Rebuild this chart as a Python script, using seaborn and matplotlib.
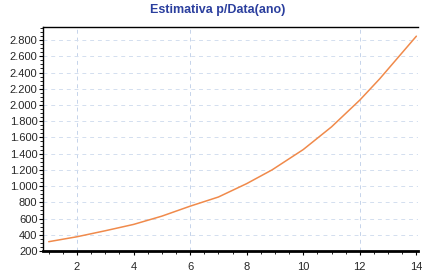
import pandas as pd
import seaborn as sns
import matplotlib.pyplot as plt
from matplotlib.ticker import FuncFormatter, MultipleLocator

# values
anos = [1, 2, 3, 4, 5, 6, 7, 8, 8.9, 10, 11, 12, 12.7, 14]
estimativa = [314, 375, 449, 527, 629, 752, 865, 1030, 1200, 1450, 1730, 2060, 2321, 2848]

df = pd.DataFrame({'ano': anos, 'estimativa': estimativa})

sns.set_style('white')
plt.rcParams['font.family'] = ['Liberation Sans', 'DejaVu Sans']

fig = plt.figure(figsize=(4.22, 2.71), dpi=100)
ax = fig.add_axes([0.102, 0.074, 0.888, 0.826])

sns.lineplot(data=df, x='ano', y='estimativa', color='#f08a4b', linewidth=1.1, ax=ax)

ax.set_xlim(0.8, 14.05)
ax.set_ylim(200, 2960)
ax.xaxis.set_major_locator(MultipleLocator(2))
ax.xaxis.set_minor_locator(MultipleLocator(0.5))
ax.yaxis.set_major_locator(MultipleLocator(200))
ax.yaxis.set_minor_locator(MultipleLocator(50))
ax.yaxis.set_major_formatter(FuncFormatter(lambda v, p: f'{int(v):,}'.replace(',', '.')))

# light dashed grid
ax.grid(axis='y', color='#d3deef', linestyle=(0, (4, 4)), linewidth=0.7)
for xv in [2, 6, 12]:
    ax.axvline(xv, color='#c5d3ea', linestyle=(0, (4, 4)), linewidth=0.7, zorder=0)

ax.set_xlabel('')
ax.set_ylabel('')
ax.tick_params(axis='both', which='major', labelsize=8, length=3, width=0.8,
               direction='out', color='black', pad=1)
ax.tick_params(axis='both', which='minor', length=2, width=0.6, direction='out', color='black')
ax.tick_params(axis='x', pad=5)
ax.tick_params(left=True, bottom=True, which='both')

for side in ['left', 'top']:
    ax.spines[side].set_color('black')
    ax.spines[side].set_linewidth(1.0)
ax.spines['bottom'].set_color('black')
ax.spines['bottom'].set_linewidth(2.0)
ax.spines['right'].set_visible(False)

fig.text(0.515, 0.962, 'Estimativa p/Data(ano)', ha='center', va='center',
         fontsize=9, fontweight='bold', color='#2b3f9e')

fig.savefig('out.png', dpi=100)
